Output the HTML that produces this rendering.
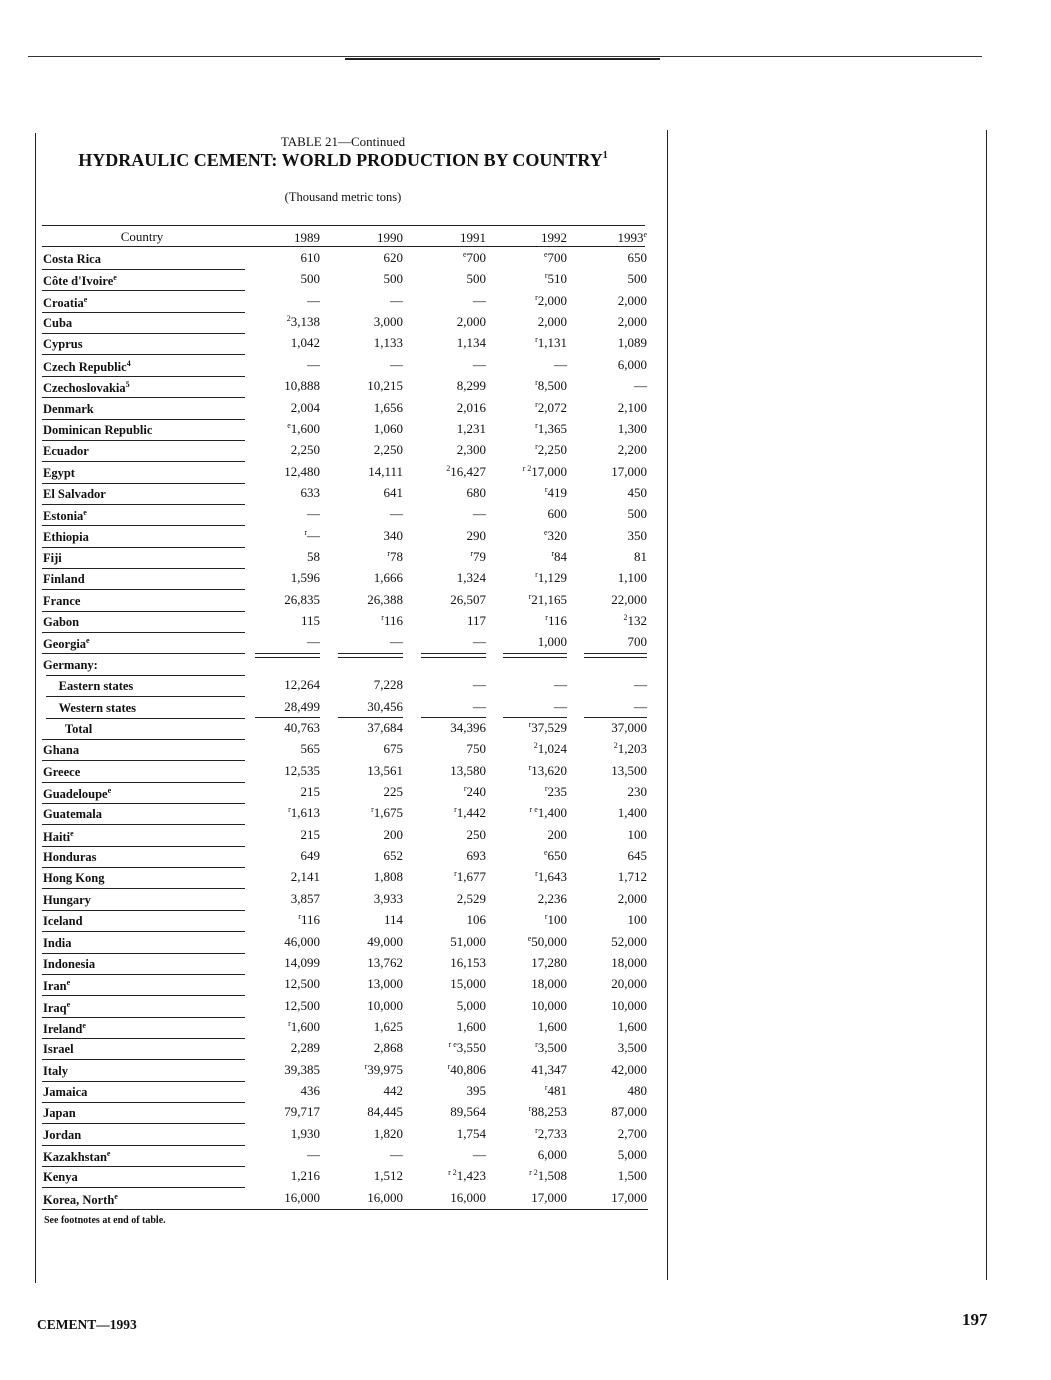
<!DOCTYPE html>
<html><head><meta charset="utf-8"><style>
body{margin:0;width:1051px;height:1380px;background:#fff;position:relative;font-family:"Liberation Serif",serif;color:#111;overflow:hidden}
.a{position:absolute}
.r{position:absolute;left:42px;width:606px;height:21px;font-size:13px}
.c{position:absolute;left:1px;top:3px;font-weight:bold;font-size:12.5px}
.u{position:absolute;left:0;width:203px;bottom:0;border-bottom:1.5px solid #222}
.n{position:absolute;top:1px;text-align:right;width:70px}
.n1{left:208px}.n2{left:291px}.n3{left:374px}.n4{left:455px}.n5{left:535px}
sup{font-size:8px;vertical-align:5px}
</style></head><body>
<div class="a" style="left:28px;top:56px;width:954px;border-top:1px solid #333"></div>
<div class="a" style="left:345px;top:58px;width:315px;border-top:2px solid #222"></div>
<div class="a" style="left:35px;top:133px;height:1150px;border-left:1.5px solid #222"></div>
<div class="a" style="left:667px;top:130px;height:1150px;border-left:1.5px solid #222"></div>
<div class="a" style="left:986px;top:130px;height:1150px;border-left:1.5px solid #222"></div>
<div class="a" style="left:0;width:686px;top:134px;text-align:center;font-size:13px">TABLE 21—Continued</div>
<div class="a" style="left:0;width:686px;top:150px;text-align:center;font-size:18px;font-weight:bold">HYDRAULIC CEMENT: WORLD PRODUCTION BY COUNTRY<sup style="font-size:10px;vertical-align:8px">1</sup></div>
<div class="a" style="left:0;width:686px;top:190px;text-align:center;font-size:12.5px">(Thousand metric tons)</div>
<div class="a" style="left:42px;top:225px;width:603px;border-top:1.5px solid #222"></div>
<div class="a" style="left:42px;top:246px;width:603px;border-top:1.5px solid #222"></div>
<div class="r" style="top:229px"><div class="a" style="left:0;width:200px;text-align:center">Country</div><div class="n n1">1989</div><div class="n n2">1990</div><div class="n n3">1991</div><div class="n n4">1992</div><div class="n n5">1993<sup>e</sup></div></div>
<div id="rows"></div>
<div class="a" style="left:42px;top:1209px;width:606px;border-top:1.5px solid #222"></div>
<div class="a" style="left:44px;top:1215px;font-size:10px;font-weight:bold">See footnotes at end of table.</div>
<div class="a" style="left:37px;top:1317px;font-size:13.5px;font-weight:bold">CEMENT—1993</div>
<div class="a" style="left:962px;top:1310px;font-size:17px;font-weight:bold">197</div>
<script>
var d=[
["Costa Rica","610","620","<sup>e</sup>700","<sup>e</sup>700","650"],
["Côte d'Ivoire<sup>e</sup>","500","500","500","<sup>r</sup>510","500"],
["Croatia<sup>e</sup>","—","—","—","<sup>r</sup>2,000","2,000"],
["Cuba","<sup>2</sup>3,138","3,000","2,000","2,000","2,000"],
["Cyprus","1,042","1,133","1,134","<sup>r</sup>1,131","1,089"],
["Czech Republic<sup>4</sup>","—","—","—","—","6,000"],
["Czechoslovakia<sup>5</sup>","10,888","10,215","8,299","<sup>r</sup>8,500","—"],
["Denmark","2,004","1,656","2,016","<sup>r</sup>2,072","2,100"],
["Dominican Republic","<sup>e</sup>1,600","1,060","1,231","<sup>r</sup>1,365","1,300"],
["Ecuador","2,250","2,250","2,300","<sup>r</sup>2,250","2,200"],
["Egypt","12,480","14,111","<sup>2</sup>16,427","<sup>r 2</sup>17,000","17,000"],
["El Salvador","633","641","680","<sup>r</sup>419","450"],
["Estonia<sup>e</sup>","—","—","—","600","500"],
["Ethiopia","<sup>r</sup>—","340","290","<sup>e</sup>320","350"],
["Fiji","58","<sup>r</sup>78","<sup>r</sup>79","<sup>r</sup>84","81"],
["Finland","1,596","1,666","1,324","<sup>r</sup>1,129","1,100"],
["France","26,835","26,388","26,507","<sup>r</sup>21,165","22,000"],
["Gabon","115","<sup>r</sup>116","117","<sup>r</sup>116","<sup>2</sup>132"],
["Georgia<sup>e</sup>","—","—","—","1,000","700"],
["Germany:","","","","",""],
["&nbsp;&nbsp;&nbsp;&nbsp;&nbsp;Eastern states","12,264","7,228","—","—","—"],
["&nbsp;&nbsp;&nbsp;&nbsp;&nbsp;Western states","28,499","30,456","—","—","—"],
["&nbsp;&nbsp;&nbsp;&nbsp;&nbsp;&nbsp;&nbsp;Total","40,763","37,684","34,396","<sup>r</sup>37,529","37,000"],
["Ghana","565","675","750","<sup>2</sup>1,024","<sup>2</sup>1,203"],
["Greece","12,535","13,561","13,580","<sup>r</sup>13,620","13,500"],
["Guadeloupe<sup>e</sup>","215","225","<sup>r</sup>240","<sup>r</sup>235","230"],
["Guatemala","<sup>r</sup>1,613","<sup>r</sup>1,675","<sup>r</sup>1,442","<sup>r e</sup>1,400","1,400"],
["Haiti<sup>e</sup>","215","200","250","200","100"],
["Honduras","649","652","693","<sup>e</sup>650","645"],
["Hong Kong","2,141","1,808","<sup>r</sup>1,677","<sup>r</sup>1,643","1,712"],
["Hungary","3,857","3,933","2,529","2,236","2,000"],
["Iceland","<sup>r</sup>116","114","106","<sup>r</sup>100","100"],
["India","46,000","49,000","51,000","<sup>e</sup>50,000","52,000"],
["Indonesia","14,099","13,762","16,153","17,280","18,000"],
["Iran<sup>e</sup>","12,500","13,000","15,000","18,000","20,000"],
["Iraq<sup>e</sup>","12,500","10,000","5,000","10,000","10,000"],
["Ireland<sup>e</sup>","<sup>r</sup>1,600","1,625","1,600","1,600","1,600"],
["Israel","2,289","2,868","<sup>r e</sup>3,550","<sup>r</sup>3,500","3,500"],
["Italy","39,385","<sup>r</sup>39,975","<sup>r</sup>40,806","41,347","42,000"],
["Jamaica","436","442","395","<sup>r</sup>481","480"],
["Japan","79,717","84,445","89,564","<sup>r</sup>88,253","87,000"],
["Jordan","1,930","1,820","1,754","<sup>r</sup>2,733","2,700"],
["Kazakhstan<sup>e</sup>","—","—","—","6,000","5,000"],
["Kenya","1,216","1,512","<sup>r 2</sup>1,423","<sup>r 2</sup>1,508","1,500"],
["Korea, North<sup>e</sup>","16,000","16,000","16,000","17,000","17,000"]];
var h="";
for(var i=0;i<d.length;i++){var t=249+i*21.36;var row=d[i];
h+='<div class="r" style="top:'+t+'px"><div class="c">'+row[0]+'</div>'+(i<d.length-1?'<div class="u"'+(i>=19&&i<=21?' style="left:4px;width:199px"':'')+'></div>':'');
for(var j=1;j<6;j++)h+='<div class="n n'+j+'">'+row[j]+'</div>';
h+='</div>';}
var xs=[[255,320],[338,403],[421,486],[503,567],[584,647]];
for(var k=0;k<5;k++){var x=xs[k];
h+='<div class="a" style="left:'+x[0]+'px;width:'+(x[1]-x[0])+'px;top:653px;height:3px;border-top:1.5px solid #222;border-bottom:1.5px solid #222"></div>';
h+='<div class="a" style="left:'+x[0]+'px;width:'+(x[1]-x[0])+'px;top:717px;border-top:1.5px solid #222"></div>';}
document.getElementById("rows").innerHTML=h;
</script>
</body></html>
